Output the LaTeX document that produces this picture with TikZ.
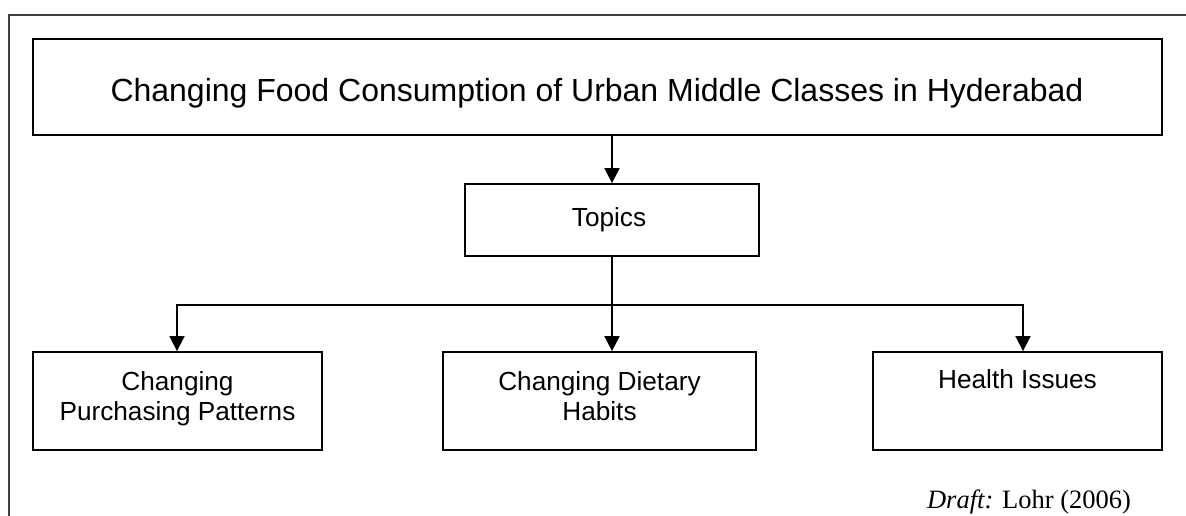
\documentclass[tikz,border=0pt]{standalone}
\usepackage{fontspec}
\setmainfont{Liberation Sans}
\newfontfamily\draftfont{Liberation Serif}
\usetikzlibrary{arrows.meta}
\begin{document}
\begin{tikzpicture}[x=1pt,y=-1pt,
  box/.style={draw, line width=1.8pt, inner sep=0pt},
  conn/.style={line width=1.8pt, -{Triangle[width=15pt,length=15pt]}},
  plain/.style={line width=1.8pt},
  txt/.style={inner sep=0pt, align=center, font=\fontsize{26.2}{30.1}\selectfont},
  titletxt/.style={inner sep=0pt, font=\fontsize{32}{36.8}\selectfont},
  frameline/.style={line width=1.3pt, black!75}]
\useasboundingbox (0,0) rectangle (1186,516);
\draw[frameline] (1187,15) -- (9,15) -- (9,517);
% boxes
\node[box, minimum width=1129pt, minimum height=96pt] (title) at (597.5,87) {};
\node[box, minimum width=294pt, minimum height=72pt] (topics) at (612,220) {};
\node[box, minimum width=289pt, minimum height=98pt] (b1) at (177.5,401) {};
\node[box, minimum width=313pt, minimum height=98pt] (b2) at (599.5,401) {};
\node[box, minimum width=289pt, minimum height=98pt] (b3) at (1017.5,401) {};
% texts
\node[titletxt, anchor=base] (ttitle) at (597,101.7) {Changing Food Consumption of Urban Middle Classes in Hyderabad};
\node[txt, anchor=base] (ttopics) at (609,226.7) {Topics};
\node[txt, anchor=north] (t1) at (177.5,371) {Changing\\Purchasing Patterns};
\node[txt, anchor=north] (t2) at (599.5,371) {Changing Dietary\\Habits};
\node[txt, anchor=north] (t3) at (1017.5,369) {Health Issues};
\node[inner sep=0pt, anchor=base] (draft) at (1029,508) {\draftfont\fontsize{26.5}{30}\selectfont\textit{Draft:} Lohr (2006)};
% connectors
\coordinate (j) at (612,305);
\coordinate (jl) at (177,305);
\coordinate (jr) at (1023,305);
\draw[conn] (title.south -| topics.north) -- (topics.north);
\draw[plain] (topics.south) -- (j);
\draw[conn] (j) -| (jl |- b1.north);
\draw[conn] (j) -- (j |- b2.north);
\draw[conn] (j) -| (jr |- b3.north);
\end{tikzpicture}
\end{document}
